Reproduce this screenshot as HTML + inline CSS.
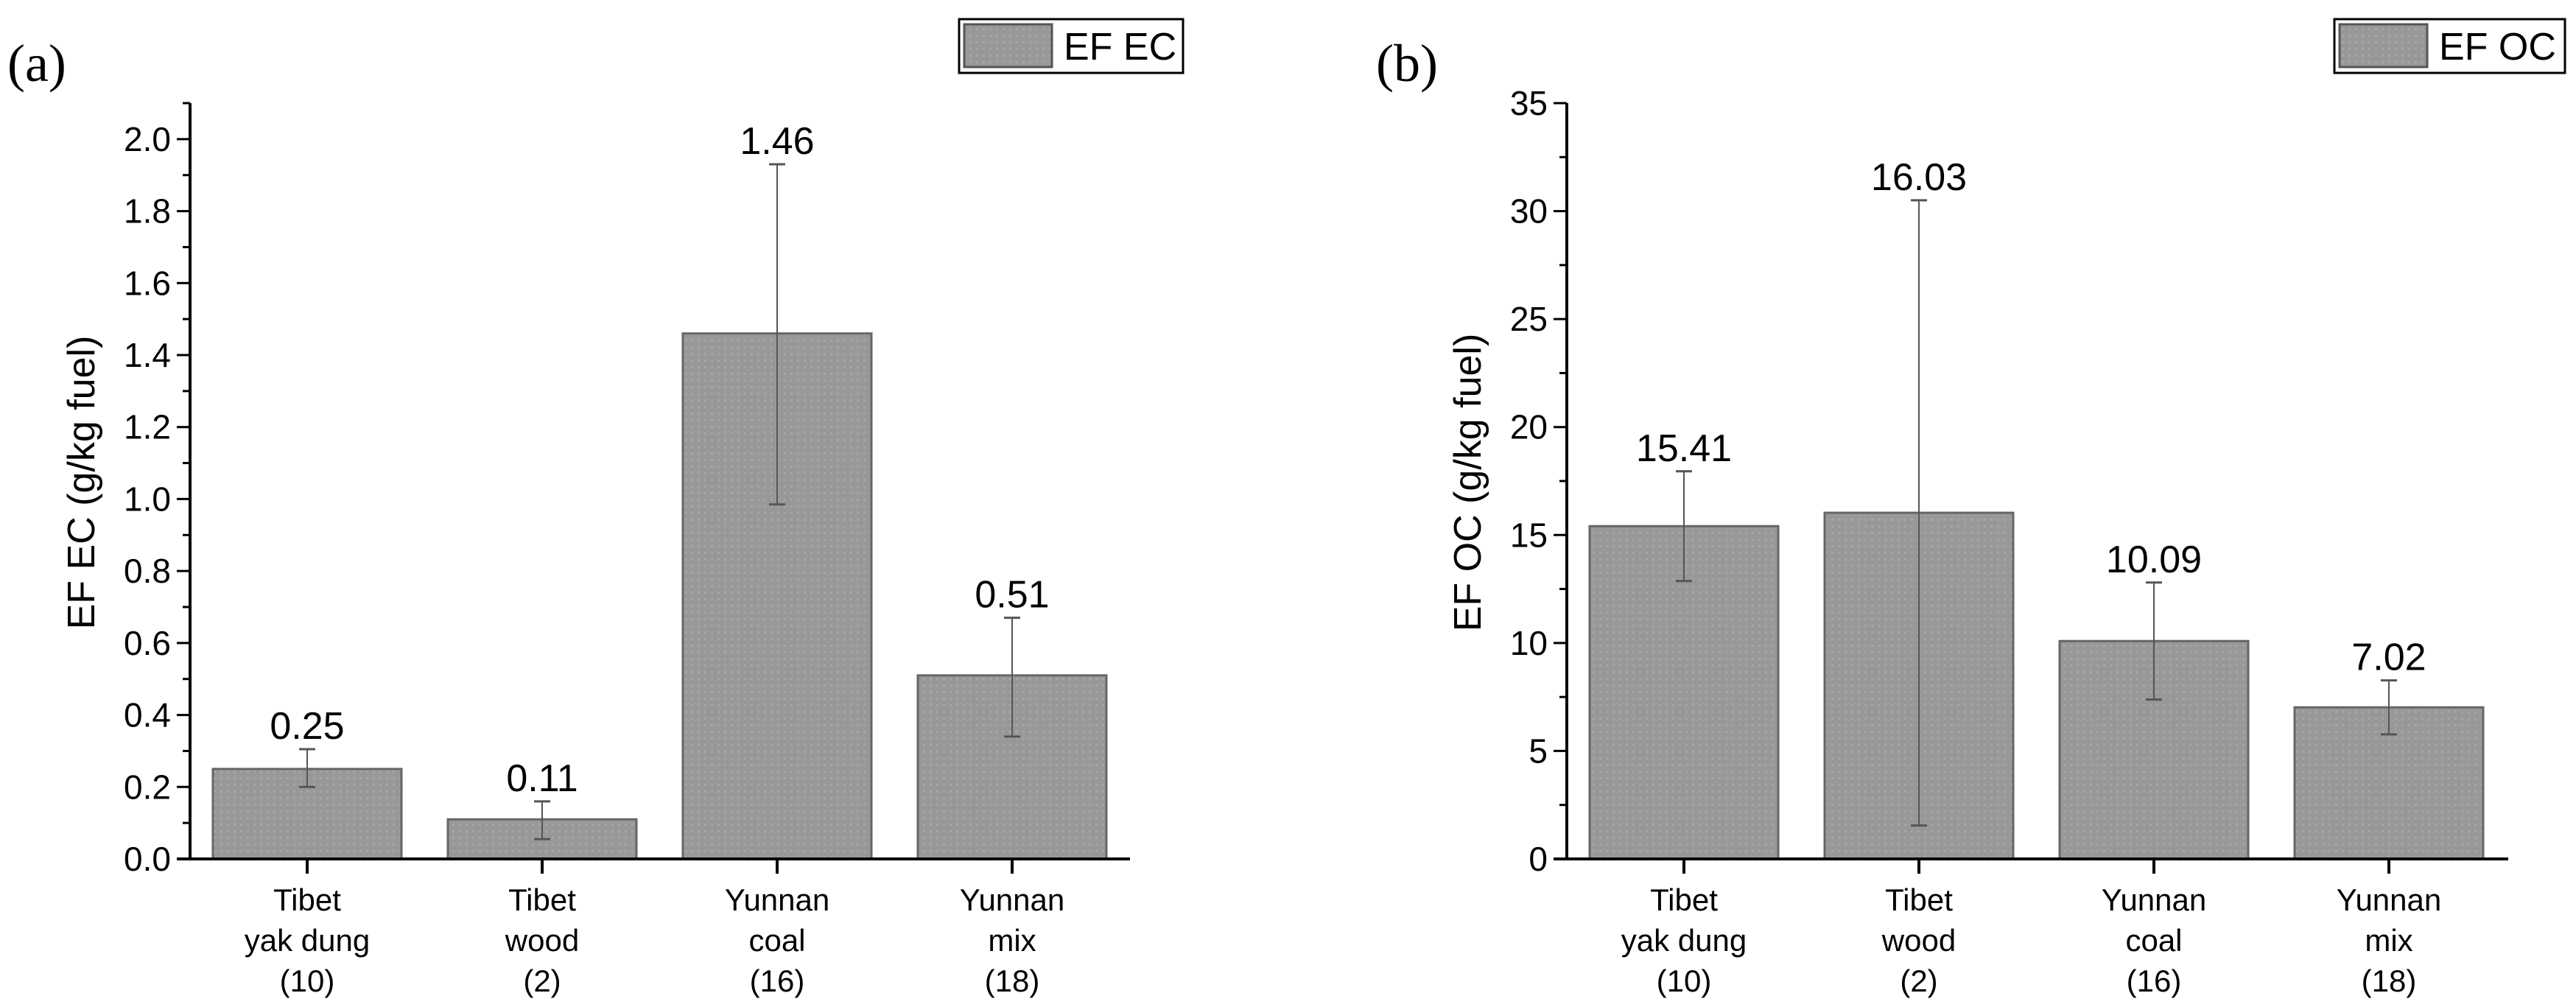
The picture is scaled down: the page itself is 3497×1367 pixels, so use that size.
<!DOCTYPE html>
<html><head><meta charset="utf-8"><style>
html,body{margin:0;padding:0;background:#fff;}
svg{display:block;font-family:"Liberation Sans",sans-serif;}
</style></head><body>
<svg id="chart" width="3497" height="1367" viewBox="0 0 3497 1367" xmlns="http://www.w3.org/2000/svg">
<defs>
<pattern id="dots" width="9" height="9" patternUnits="userSpaceOnUse">
<rect width="9" height="9" fill="#989898"/><rect x="2" y="2" width="3" height="3" fill="#a6a6a6"/>
</pattern>
</defs>
</svg>
<script>
const categories = [["Tibet","yak dung","(10)"],["Tibet","wood","(2)"],["Yunnan","coal","(16)"],["Yunnan","mix","(18)"]];
const ecValues = [0.25, 0.11, 1.46, 0.51];
const ecUpper = [0.305, 0.16, 1.93, 0.67];
const ecLower = [0.20, 0.055, 0.985, 0.34];
const ecLabels = ["0.25","0.11","1.46","0.51"];
const ecTicks = [0,0.2,0.4,0.6,0.8,1.0,1.2,1.4,1.6,1.8,2.0];
const ecTickLabels = ["0.0","0.2","0.4","0.6","0.8","1.0","1.2","1.4","1.6","1.8","2.0"];
const ocValues = [15.41, 16.03, 10.09, 7.02];
const ocUpper = [17.95, 30.5, 12.8, 8.27];
const ocLower = [12.87, 1.55, 7.38, 5.77];
const ocLabels = ["15.41","16.03","10.09","7.02"];
const ocTicks = [0,5,10,15,20,25,30,35];
const ocTickLabels = ["0","5","10","15","20","25","30","35"];

const svg = document.getElementById('chart');
const NS = 'http://www.w3.org/2000/svg';
function mk(tag, attrs, parent, text){
  const e = document.createElementNS(NS, tag);
  for (const k in attrs) e.setAttribute(k, attrs[k]);
  if (text !== undefined) e.textContent = text;
  (parent||svg).appendChild(e);
  return e;
}

function panel(cfg){
  const g = mk('g', {});
  
  
  const y0 = 1166, yTop = 140;
  const yScale = v => y0 - (v - 0) / (cfg.max) * (y0 - yTop);
  const xScale = i => cfg.x0 + 159 + i * 319;
  cfg.values.forEach((v, i) => {
    const b = mk('rect', {x: xScale(i) - 128, y: yScale(v), width: 256, height: y0 - yScale(v), fill: 'url(#dots)', stroke: '#666', 'stroke-width': 3}, g);
    
    
  });
  cfg.values.forEach((v, i) => {
    const eg = mk('g', {stroke: '#555', 'stroke-width': 3}, g);
    
    
    const cx = xScale(i);
    mk('line', {x1: cx, x2: cx, y1: yScale(cfg.upper[i]), y2: yScale(cfg.lower[i]), 'stroke-width': 2}, eg);
    mk('line', {x1: cx - 11, x2: cx + 11, y1: yScale(cfg.upper[i]), y2: yScale(cfg.upper[i])}, eg);
    mk('line', {x1: cx - 11, x2: cx + 11, y1: yScale(cfg.lower[i]), y2: yScale(cfg.lower[i])}, eg);
    const t = mk('text', {x: cx, y: yScale(cfg.upper[i]) - 14, 'text-anchor': 'middle', 'font-size': 52, fill: '#000'}, g, cfg.labels[i]);
    
    
  });
  const ya = mk('line', {x1: cfg.x0, x2: cfg.x0, y1: yTop, y2: y0 + 1.5, stroke: '#000', 'stroke-width': 4}, g);
  
  
  const xa = mk('line', {x1: cfg.x0 - 18, x2: cfg.x1, y1: y0, y2: y0, stroke: '#000', 'stroke-width': 4}, g);
  
  
  cfg.ticks.forEach((t, i) => {
    const y = yScale(t);
    mk('line', {x1: cfg.x0 - 18, x2: cfg.x0, y1: y, y2: y, stroke: '#000', 'stroke-width': 3}, g);
    const tl = mk('text', {x: cfg.x0 - 26, y: y + 16, 'text-anchor': 'end', 'font-size': 46}, g, cfg.tickLabels[i]);
    
    
    const ym = yScale(t + cfg.minor);
    if (t + cfg.minor <= cfg.max + 1e-9) mk('line', {x1: cfg.x0 - 10, x2: cfg.x0, y1: ym, y2: ym, stroke: '#000', 'stroke-width': 3}, g);
  });
  categories.forEach((c, i) => {
    const cx = xScale(i);
    mk('line', {x1: cx, x2: cx, y1: y0, y2: y0 + 20, stroke: '#000', 'stroke-width': 4}, g);
    const t = mk('text', {x: cx, 'text-anchor': 'middle', 'font-size': 42}, g);
    
    
    c.forEach((line, j) => mk('tspan', {x: cx, y: 1236 + j * 55}, t, line));
  });
  const yt = mk('text', {x: cfg.titleX, y: 655, 'text-anchor': 'middle', 'font-size': 52, transform: `rotate(-90 ${cfg.titleX} 655)`}, g, cfg.title);
  
  
  const lg = mk('g', {}, g);
  
  
  mk('rect', {x: cfg.legX, y: 26, width: cfg.legW, height: 73, fill: '#fff', stroke: '#000', 'stroke-width': 3}, lg);
  mk('rect', {x: cfg.legX + 7, y: 33, width: 119, height: 58, fill: 'url(#dots)', stroke: '#555', 'stroke-width': 3}, lg);
  mk('text', {x: cfg.legX + 142, y: 81, 'font-size': 52}, lg, cfg.legend);
  const pl = mk('text', {x: cfg.panelX, y: 110, 'font-size': 72, 'font-family': '"Liberation Serif",serif'}, g, cfg.panel);
  
  
}

panel({name:'panel-a-ec', x0:258, x1:1534, max:2.1, minor:0.1, values:ecValues, upper:ecUpper, lower:ecLower, labels:ecLabels, ticks:ecTicks, tickLabels:ecTickLabels, title:'EF EC (g/kg fuel)', titleX:128, legX:1302, legW:304, legend:'EF EC', panel:'(a)', panelX:10});
panel({name:'panel-b-oc', x0:2127, x1:3405, max:35, minor:2.5, values:ocValues, upper:ocUpper, lower:ocLower, labels:ocLabels, ticks:ocTicks, tickLabels:ocTickLabels, title:'EF OC (g/kg fuel)', titleX:2010, legX:3169, legW:313, legend:'EF OC', panel:'(b)', panelX:1868});
</script>
</body></html>
